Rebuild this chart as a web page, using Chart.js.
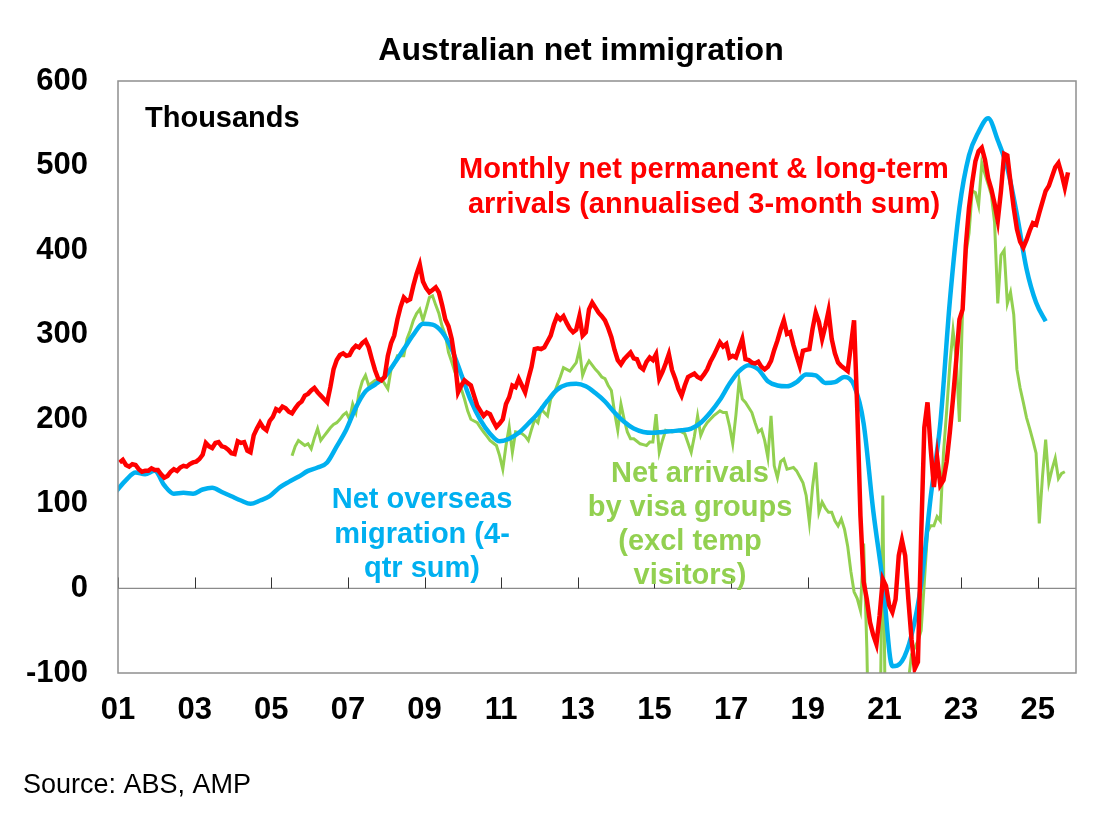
<!DOCTYPE html>
<html>
<head>
<meta charset="utf-8">
<title>Australian net immigration</title>
<script src="https://cdn.jsdelivr.net/npm/chart.js@4.4.1/dist/chart.umd.min.js"></script>
<style>
    html, body { margin: 0; padding: 0; background: #ffffff; }
    #wrap { width: 1108px; height: 817px; }
</style>
</head>
<body>
<div id="wrap"><canvas id="immigrationChart" width="1108" height="817"></canvas></div>
<script>
// x values are decimal years, monthly points sit mid-month
var tickYears = [2001, 2003, 2005, 2007, 2009, 2011, 2013, 2015, 2017, 2019, 2021, 2023, 2025];
var yTicks = [-100, 0, 100, 200, 300, 400, 500, 600];

// Monthly net permanent & long-term arrivals (annualised 3-month sum), Jan 2001 - Oct 2025
var redStart = 2001;
var redArrivals = [
    149, 152, 146, 144, 147, 146, 141, 138, 139, 139, 142, 140, // 2001
    140, 135, 131, 133, 138, 141, 139, 143, 145, 144, 147, 149, // 2002
    150, 153, 158, 172, 168, 166, 172, 173, 168, 167, 164, 160, // 2003
    159, 174, 172, 173, 163, 161, 181, 189, 196, 190, 187, 198, // 2004
    203, 212, 210, 215, 213, 209, 207, 213, 218, 221, 228, 230, // 2005
    234, 237, 232, 228, 224, 220, 238, 259, 270, 276, 278, 275, // 2006
    276, 283, 287, 285, 290, 293, 285, 271, 258, 248, 246, 250, // 2007
    275, 290, 299, 318, 333, 344, 340, 342, 358, 372, 383, 363, // 2008
    355, 350, 353, 356, 350, 335, 318, 310, 295, 270, 232, 240, // 2009
    246, 243, 240, 228, 216, 210, 204, 208, 206, 198, 191, 195, // 2010
    200, 218, 226, 240, 238, 248, 240, 232, 248, 262, 283, 284, // 2011
    283, 285, 292, 299, 312, 322, 318, 322, 314, 307, 303, 306, // 2012
    322, 299, 303, 330, 338, 332, 326, 322, 317, 308, 297, 282, // 2013
    270, 265, 271, 275, 279, 272, 271, 262, 259, 268, 273, 270, // 2014
    277, 248, 256, 266, 277, 258, 248, 236, 228, 240, 250, 252, // 2015
    254, 250, 248, 253, 259, 268, 275, 283, 291, 286, 289, 273, // 2016
    275, 273, 284, 295, 271, 270, 267, 266, 268, 262, 259, 262, // 2017
    269, 282, 293, 306, 317, 301, 303, 288, 275, 263, 281, 282, // 2018
    283, 307, 326, 315, 295, 310, 328, 295, 278, 267, 263, 260, // 2019
    257, 287, 317, 212, 86, 8, -13, -40, -55, -66, -32, 11,     // 2020
    3, -20, -28, -13, 39, 57, 39, -13, -60, -95, -87, 60,        // 2021
    190, 220, 165, 120, 155, 122, 128, 150, 185, 225, 270, 318, // 2022
    330, 405, 450, 480, 505, 517, 521, 507, 485, 472, 455, 435, // 2023
    470, 514, 512, 480, 450, 425, 410, 403, 412, 423, 432, 430, // 2024
    444, 457, 470, 476, 487, 498, 503, 490, 474, 492            // 2025
];

// Net arrivals by visa groups (excl temp visitors), Jul 2005 - Sep 2025
var greenStart = 2005.5;
var greenVisa = [
    157, 168, 175, 172, 169, 171,                               // 2005
    165, 178, 189, 175, 180, 185, 190, 194, 196, 200, 205, 208, // 2006
    200, 218, 208, 232, 245, 252, 240, 243, 246, 247, 248, 242, // 2007
    236, 259, 265, 275, 275, 275, 295, 305, 317, 325, 330, 317, // 2008
    330, 344, 346, 335, 325, 310, 300, 279, 268, 256, 243, 236, // 2009
    224, 210, 200, 198, 196, 190, 185, 180, 175, 172, 169, 157, // 2010
    141, 169, 191, 161, 185, 184, 183, 180, 175, 188, 200, 196, // 2011
    212, 208, 204, 224, 230, 240, 250, 261, 259, 257, 262, 267, // 2012
    283, 252, 262, 269, 264, 259, 255, 250, 248, 240, 234, 208, // 2013
    187, 218, 200, 185, 177, 177, 174, 171, 170, 169, 173, 173, // 2014
    206, 161, 175, 187, 186, 185, 186, 187, 185, 183, 172, 161, // 2015
    180, 204, 181, 190, 196, 200, 204, 207, 210, 208, 208, 192, // 2016
    171, 205, 246, 224, 220, 214, 208, 196, 185, 188, 175, 155, // 2017
    204, 145, 131, 150, 153, 141, 142, 143, 139, 132, 125, 110, // 2018
    78, 120, 149, 90, 102, 95, 90, 90, 80, 74, 82, 70,          // 2019
    50, 20, -4, -12, -26, 53, -70, -260, -240, -250, -220, 110, // 2020
    -230, -250, -240, -220, -200, -200, -180, -110, -78, -70, -62, -50, // 2021
    7, 67, 74, 74, 85, 80, 160, 210, 265, 305, 272, 197,        // 2022
    333, 395, 420, 470, 468, 453, 503, 490, 478, 465, 433, 337, // 2023
    394, 400, 337, 350, 324, 259, 237, 220, 202, 189, 175, 160, // 2024
    77, 132, 176, 125, 141, 154, 130, 136, 138                  // 2025
];

// Net overseas migration (4-qtr sum), quarterly, Dec qtr 2000 - Mar qtr 2025
var blueStart = 2000.75;
var blueNom = [
    115,                 // 2000
    128, 137, 135, 139,  // 2001
    122, 112, 113, 112,  // 2002
    117, 119, 114, 109,  // 2003
    104, 100, 104, 109,  // 2004
    119, 126, 132, 139,  // 2005
    143, 149, 168, 188,  // 2006
    214, 233, 241, 250,  // 2007
    266, 283, 300, 313,  // 2008
    312, 303, 283, 253,  // 2009
    222, 199, 183, 174,  // 2010
    177, 184, 195, 207,  // 2011
    222, 235, 241, 242,  // 2012
    239, 231, 221, 208,  // 2013
    197, 189, 185, 184,  // 2014
    185, 186, 187, 189,  // 2015
    196, 208, 223, 242,  // 2016
    257, 264, 259, 245,  // 2017
    240, 239, 244, 253,  // 2018
    252, 243, 244, 250,  // 2019
    240, 195, 92, 8,     // 2020
    -92, -86, -55, 5,    // 2021
    108, 195, 340, 450,  // 2022
    512, 540, 556, 530,  // 2023
    497, 442, 378, 338,  // 2024
    316                  // 2025
];

var FONT = '"Liberation Sans", Arial, Helvetica, sans-serif';

var monthly = function(values, start) {
    return values.map(function(v, i) {
        return { x: start + (i + 0.5) / 12, y: v };
    });
};
var quarterly = function(values, start) {
    return values.map(function(v, i) {
        return { x: start + (3 * (i + 1) - 0.5) / 12, y: v };
    });
};

// plot frame, zero line and the year ticks that sit on it
var framePlugin = {
    id: 'frame',
    beforeDatasetsDraw: function(chart) {
        var c = chart.ctx, a = chart.chartArea;
        var xs = chart.scales.x, ys = chart.scales.y;
        var y0 = ys.getPixelForValue(0);
        c.save();
        c.strokeStyle = '#8a8a8a';
        c.lineWidth = 1.2;
        c.beginPath();
        c.moveTo(a.left, y0);
        c.lineTo(a.right, y0);
        c.stroke();
        c.strokeStyle = '#333333';
        c.lineWidth = 1;
        tickYears.forEach(function(t) {
            var px = Math.round(xs.getPixelForValue(t)) + 0.5;
            c.beginPath();
            c.moveTo(px, y0);
            c.lineTo(px, y0 - 11);
            c.stroke();
        });
        c.restore();
    },
    afterDatasetsDraw: function(chart) {
        var c = chart.ctx, a = chart.chartArea;
        c.save();
        c.strokeStyle = '#8f8f8f';
        c.lineWidth = 1.5;
        c.strokeRect(a.left, a.top, a.right - a.left, a.bottom - a.top);
        c.restore();
    }
};

var notes = [
    { color: '#FF0000', x: 704, lines: ['Monthly net permanent & long-term', 'arrivals (annualised 3-month sum)'], base: [178, 213] },
    { color: '#00B0F0', x: 422, lines: ['Net overseas', 'migration (4-', 'qtr sum)'], base: [508, 543, 577] },
    { color: '#92D050', x: 690, lines: ['Net arrivals', 'by visa groups', '(excl temp', 'visitors)'], base: [482, 516, 550, 584] }
];

var textPlugin = {
    id: 'texts',
    afterDraw: function(chart) {
        var c = chart.ctx;
        c.save();
        c.textBaseline = 'alphabetic';
        c.fillStyle = '#000000';
        c.textAlign = 'center';
        c.font = 'bold 32px ' + FONT;
        c.fillText('Australian net immigration', 581, 60);
        c.textAlign = 'left';
        c.font = 'bold 29px ' + FONT;
        c.fillText('Thousands', 145, 127);
        c.font = '27px ' + FONT;
        c.fillText('Source: ABS, AMP', 23, 793);
        c.textAlign = 'center';
        c.font = 'bold 29px ' + FONT;
        notes.forEach(function(n) {
            c.fillStyle = n.color;
            n.lines.forEach(function(line, i) {
                c.fillText(line, n.x, n.base[i]);
            });
        });
        c.restore();
    }
};

var config = {
    type: 'line',
    data: {
        datasets: [
            {
                label: 'Monthly net permanent & long-term arrivals (annualised 3-month sum)',
                data: monthly(redArrivals, redStart),
                borderColor: '#FF0000',
                borderWidth: 4.5,
                tension: 0,
                pointRadius: 0
            },
            {
                label: 'Net overseas migration (4-qtr sum)',
                data: quarterly(blueNom, blueStart),
                borderColor: '#00B0F0',
                borderWidth: 4.5,
                cubicInterpolationMode: 'monotone',
                pointRadius: 0
            },
            {
                label: 'Net arrivals by visa groups (excl temp visitors)',
                data: monthly(greenVisa, greenStart),
                borderColor: '#92D050',
                borderWidth: 3,
                tension: 0,
                pointRadius: 0
            }
        ]
    },
    options: {
        responsive: false,
        animation: false,
        layout: { padding: { top: 81, right: 32, bottom: 84, left: 0 } },
        plugins: {
            legend: { display: false },
            tooltip: { enabled: false }
        },
        scales: {
            x: {
                type: 'linear',
                min: 2001,
                max: 2026,
                grid: { display: false, drawTicks: false },
                border: { display: false },
                afterBuildTicks: function(scale) {
                    scale.ticks = tickYears.map(function(v) { return { value: v }; });
                },
                afterFit: function(scale) { scale.height = 60; },
                ticks: {
                    autoSkip: false,
                    maxRotation: 0,
                    padding: 19,
                    color: '#000000',
                    font: { family: FONT, size: 31, weight: 'bold' },
                    callback: function(v) { return String(v).slice(2); }
                }
            },
            y: {
                min: -100,
                max: 600,
                grid: { display: false, drawTicks: false },
                border: { display: false },
                afterBuildTicks: function(scale) {
                    scale.ticks = yTicks.map(function(v) { return { value: v }; });
                },
                afterFit: function(scale) { scale.width = 118; },
                ticks: {
                    padding: 30,
                    color: '#000000',
                    font: { family: FONT, size: 31, weight: 'bold' }
                }
            }
        }
    },
    plugins: [framePlugin, textPlugin]
};

var ctx = document.getElementById("immigrationChart");
var immigrationChart = new Chart(ctx, config);
</script>
</body>
</html>
